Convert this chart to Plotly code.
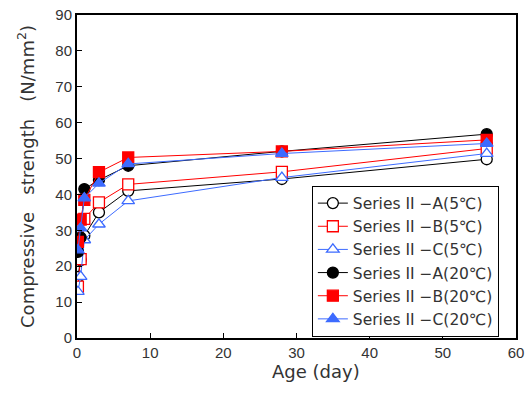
import plotly.graph_objects as go

ages = [0.125, 0.5, 1, 3, 7, 28, 56]

a5 = [17.0, 21.7, 28.5, 35.0, 41.0, 44.3, 49.8]
b5 = [14.3, 22.0, 33.2, 37.8, 42.8, 46.3, 52.8]
c5 = [12.9, 17.1, 27.3, 31.7, 38.2, 44.7, 51.4]
a20 = [24.0, 28.0, 41.5, 44.0, 48.0, 52.0, 56.8]
b20 = [26.8, 33.0, 38.5, 46.2, 50.3, 52.0, 55.2]
c20 = [24.5, 30.6, 39.0, 43.1, 48.5, 51.4, 54.2]

names = ["Series II −A(5℃)", "Series II −B(5℃)", "Series II −C(5℃)",
         "Series II −A(20℃)", "Series II −B(20℃)", "Series II −C(20℃)"]

BLUE = "#3D6BFF"
styles = [
    (a5, "black", "circle", False),
    (b5, "red", "square", False),
    (c5, BLUE, "triangle-up", False),
    (a20, "black", "circle", True),
    (b20, "red", "square", True),
    (c20, BLUE, "triangle-up", True),
]

fig = go.Figure()
for (vals, col, sym, filled), nm in zip(styles, names):
    fig.add_trace(go.Scatter(
        x=ages, y=vals, name=nm, mode="lines+markers",
        line=dict(color=col, width=1),
        marker=dict(symbol=sym, size=11, color=col if filled else "white",
                    line=dict(color=col, width=1.3)),
    ))

axis_common = dict(showline=True, linecolor="black", linewidth=2, mirror=True,
                   ticks="inside", ticklen=5, tickcolor="black", showgrid=False,
                   zeroline=False, automargin=False,
                   tickfont=dict(family="Liberation Sans, Arial", size=15, color="#333333"))

SP = "\u00a0\u00a0\u00a0"
fig.update_layout(
    width=526, height=412,
    margin=dict(l=77, r=10, t=15, b=74),
    plot_bgcolor="white", paper_bgcolor="white",
    font=dict(family="DejaVu Sans, Liberation Sans, Arial", color="#333333"),
    xaxis=dict(range=[0, 60], dtick=10, **axis_common),
    yaxis=dict(range=[0, 90], dtick=10,
               title=dict(text="Compressive" + SP + "strength" + SP + "(N/mm<sup>2</sup>)",
                          font=dict(size=18), standoff=16),
               **axis_common),
    legend=dict(x=0.535, y=0.472, xanchor="left", yanchor="top",
                bordercolor="black", borderwidth=1, bgcolor="white",
                font=dict(size=15.5, color="#333333"), tracegroupgap=0, itemwidth=30),
    showlegend=True,
    annotations=[dict(text="Age (day)", xref="paper", yref="paper", x=0.544, y=-0.105,
                      xanchor="center", yanchor="middle", showarrow=False,
                      font=dict(size=18, color="#333333"))],
)

fig.write_html("out.html", config={"displayModeBar": False},
               post_script="document.body.style.margin='0';document.body.style.padding='0';")
